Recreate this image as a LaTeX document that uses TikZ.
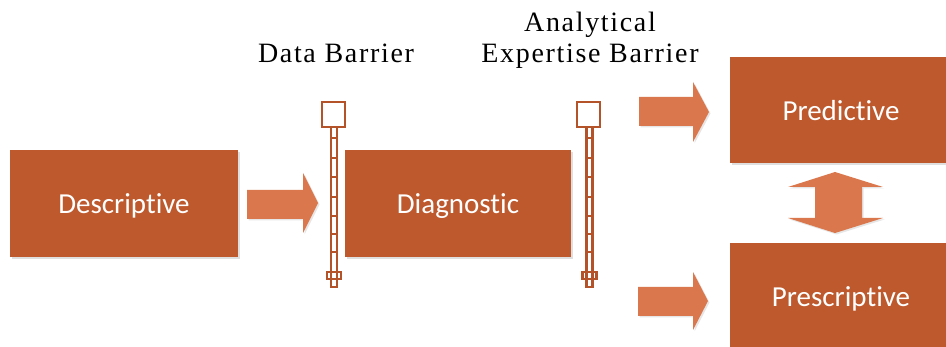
\documentclass[tikz,border=0pt]{standalone}
\usepackage{fontspec}
\setmainfont{Liberation Serif}
\newfontfamily\boxfont[Ligatures={NoCommon,NoRare,NoDiscretionary}]{Carlito}
\usetikzlibrary{shadows}
\definecolor{boxc}{HTML}{BD592D}
\definecolor{arrc}{HTML}{DA774D}
\definecolor{barc}{HTML}{B4532A}
\tikzset{
  stagebox/.style={fill=boxc, draw=none, text=white, font=\boxfont\fontsize{29}{31}\selectfont,
    text depth=0pt,
    drop shadow={shadow xshift=2pt, shadow yshift=-2pt, opacity=0.25}},
  fatarrow/.style={fill=arrc, draw=none,
    drop shadow={shadow xshift=1.5pt, shadow yshift=-1.5pt, opacity=0.2}},
  barline/.style={draw=barc, line width=2.1pt, fill=white},
  lbl/.style={font=\fontsize{28}{31}\selectfont\addfontfeature{LetterSpace=6}, align=center, inner sep=0pt}
}
\newcommand{\barrier}[2]{% #1 = left x of square, #2 = pole left x
  \draw[barline] (#1,102) rectangle ++(23,25);
  \draw[barline] (#2,127) rectangle (#2+6,287);
  \foreach \yy in {138,158,177,197,216,234,252}{\draw[barc, line width=1.8pt] (#2,\yy) -- (#2+6,\yy);}
  \draw[barline] (#2-4,272) rectangle (#2+10,279);
  \draw[barc, line width=2.1pt] (#2,272) -- (#2,279) (#2+6,272) -- (#2+6,279);
}
\begin{document}
\begin{tikzpicture}[x=1pt,y=-1pt]
\useasboundingbox (0,0) rectangle (946,347);
% boxes
\node[stagebox, minimum width=228pt, minimum height=107pt] (desc) at (124,203.5) {Descriptive};
\node[stagebox, minimum width=226pt, minimum height=107pt] (diag) at (458,203.5) {Diagnostic};
\node[stagebox, minimum width=222pt, minimum height=106pt] (pred) at (841,110.5) {Predictive};
\node[stagebox, minimum width=222pt, minimum height=108pt] (pres) at (841,297) {Prescriptive};
% arrows
\fill[fatarrow] (247,190) -- (303,190) -- (303,173) -- (318,203) -- (303,233) -- (303,219) -- (247,219) -- cycle;
\fill[fatarrow] (639,97) -- (693,97) -- (693,82) -- (709,112) -- (693,142) -- (693,126) -- (639,126) -- cycle;
\fill[fatarrow] (638,287) -- (693,287) -- (693,272) -- (708,301) -- (693,330) -- (693,316) -- (638,316) -- cycle;
\fill[fatarrow] (835,172) -- (883,187) -- (862,187) -- (862,218) -- (883,218) -- (835,233) -- (788,218) -- (815,218) -- (815,187) -- (788,187) -- cycle;
% barriers
\barrier{322}{331}
\barrier{577}{586.5}
% labels
\node[lbl, anchor=base] (db) at (336,63) {Data Barrier};
\node[lbl, anchor=base] (aeb2) at (590,63) {Expertise Barrier};
\node[lbl, anchor=base] (aeb1) at (590,32) {Analytical};
\end{tikzpicture}
\end{document}
